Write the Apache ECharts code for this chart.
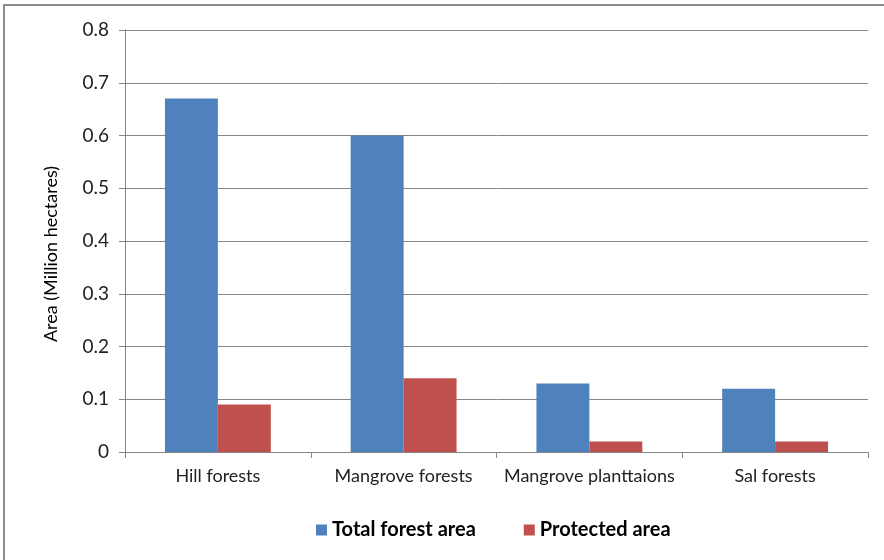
<!DOCTYPE html>
<html>
<head>
<meta charset="utf-8">
<script src="https://cdn.jsdelivr.net/npm/echarts@6/dist/echarts.min.js"></script>
<style>
  html, body { margin: 0; padding: 0; background: #fff; }
  #chart { width: 884px; height: 560px; }
</style>
</head>
<body>
<div id="chart"></div>
<script>
// Forest types and their area, in million hectares
const categories = ['Hill forests', 'Mangrove forests', 'Mangrove planttaions', 'Sal forests'];
const totalForestArea = [0.67, 0.60, 0.13, 0.12];
const protectedArea = [0.09, 0.14, 0.02, 0.02];
const seriesNames = ['Total forest area', 'Protected area'];
const yAxisTitle = 'Area (Million hectares)';

const font = 'Lato, "Open Sans", "Liberation Sans", sans-serif';
const grey = '#868686';

const chart = echarts.init(document.getElementById('chart'), null, { renderer: 'canvas' });
chart.setOption({
  animation: false,
  backgroundColor: '#fff',
  textStyle: { fontFamily: font },
  graphic: [{
    type: 'rect',
    shape: { x: 4, y: 5, width: 900, height: 600 },
    style: { fill: 'none', stroke: '#8c8c8c', lineWidth: 2 },
    silent: true
  }],
  grid: { left: 125, right: 16, top: 30, bottom: 108, containLabel: false },
  legend: {
    top: 515,
    left: 311,
    itemWidth: 11,
    itemHeight: 11,
    itemGap: 48,
    icon: 'rect',
    textStyle: { fontFamily: font, fontSize: 20, fontWeight: 'bold', color: '#000' },
    data: seriesNames
  },
  xAxis: {
    type: 'category',
    data: categories,
    axisLine: { lineStyle: { color: grey, width: 1 } },
    axisTick: { show: true, length: 6, lineStyle: { color: grey } },
    axisLabel: { color: '#222', fontSize: 18, margin: 15, interval: 0, fontFamily: font }
  },
  yAxis: {
    type: 'value',
    min: 0,
    max: 0.8,
    interval: 0.1,
    name: yAxisTitle,
    nameLocation: 'middle',
    nameGap: 65,
    nameRotate: 90,
    nameTextStyle: { color: '#000', fontSize: 18, fontFamily: font, padding: [0, 26, 0, 0] },
    axisLine: { show: true, lineStyle: { color: grey } },
    axisTick: { show: true, length: 6, lineStyle: { color: grey } },
    splitLine: { lineStyle: { color: grey, width: 1 } },
    axisLabel: {
      color: '#222', fontSize: 19, margin: 16, fontFamily: font,
      formatter: v => (v === 0 ? '0' : v.toFixed(1))
    }
  },
  series: [
    {
      name: seriesNames[0],
      type: 'bar',
      data: totalForestArea,
      barGap: '0%',
      barCategoryGap: '43%',
      itemStyle: { color: '#4F81BD' }
    },
    {
      name: seriesNames[1],
      type: 'bar',
      data: protectedArea,
      itemStyle: { color: '#C0504D' }
    }
  ]
});
</script>
</body>
</html>
